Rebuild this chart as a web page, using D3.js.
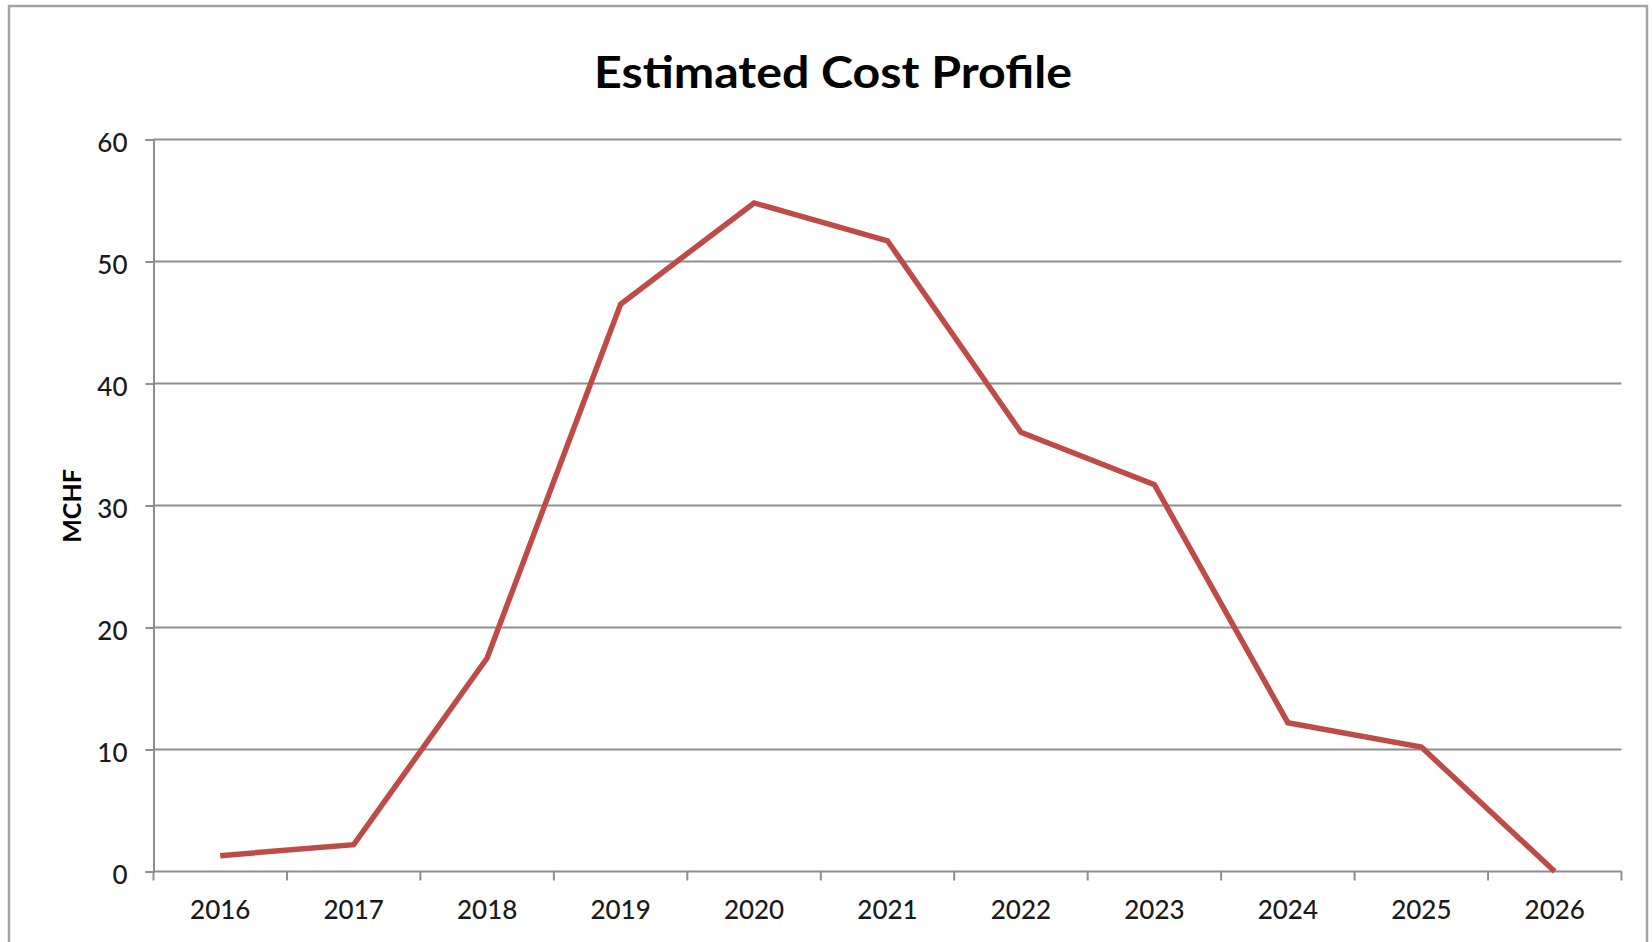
<!DOCTYPE html>
<html>
<head>
<meta charset="utf-8">
<script src="https://cdn.jsdelivr.net/npm/d3@7"></script>
<style>
  html, body { margin: 0; padding: 0; background: #fff; }
  svg { display: block; }
</style>
</head>
<body>
<svg id="chart" width="1652" height="942"></svg>
<script>
const years = ["2016","2017","2018","2019","2020","2021","2022","2023","2024","2025","2026"];
const costs = [1.3, 2.2, 17.5, 46.5, 54.8, 51.7, 36.0, 31.7, 12.2, 10.2, 0];
const yTicks = [0, 10, 20, 30, 40, 50, 60];
const titleText = "Estimated Cost Profile";
const yLabel = "MCHF";

const svg = d3.select("#chart");
const m = { left: 153.5, right: 1621.5, top: 139.5, bottom: 871.5 };

// outer frame
svg.append("rect")
  .attr("x", 9).attr("y", 6).attr("width", 1638).attr("height", 960)
  .attr("fill", "#fff").attr("stroke", "#a3a3a3").attr("stroke-width", 2.5);

const x = d3.scaleBand().domain(years).range([m.left, m.right]).paddingInner(0).paddingOuter(0);
const y = d3.scaleLinear().domain([0, 60]).range([m.bottom, m.top]);

// gridlines
svg.append("g")
  .selectAll("line").data(yTicks.filter(d => d > 0)).join("line")
  .attr("x1", m.left).attr("x2", m.right)
  .attr("y1", d => y(d)).attr("y2", d => y(d))
  .attr("stroke", "#8e8e8e").attr("stroke-width", 2);

// y axis
const yAxis = d3.axisLeft(y).tickValues(yTicks).tickSize(8).tickPadding(18).tickFormat(d3.format("d"));
const gy = svg.append("g").attr("transform", `translate(${m.left},0)`).call(yAxis);
gy.select(".domain").attr("stroke", "#8e8e8e").attr("stroke-width", 2);
gy.selectAll(".tick line").attr("stroke", "#8e8e8e").attr("stroke-width", 2);
gy.selectAll(".tick text").attr("font-family", "Lato, sans-serif").attr("font-size", 26)
  .attr("font-weight", 500).attr("fill", "#1a1a1a").attr("dy", "0.48em");

// x axis (ticks at band boundaries)
const gx = svg.append("g").attr("transform", `translate(0,${m.bottom})`);
gx.append("line").attr("x1", m.left).attr("x2", m.right).attr("y1", 0).attr("y2", 0)
  .attr("stroke", "#8e8e8e").attr("stroke-width", 2);
const boundaries = years.map(d => x(d)).concat([x(years[years.length - 1]) + x.bandwidth()]);
gx.selectAll("line.tk").data(boundaries).join("line").attr("class", "tk")
  .attr("x1", d => d).attr("x2", d => d).attr("y1", 0).attr("y2", 9)
  .attr("stroke", "#8e8e8e").attr("stroke-width", 2);
gx.selectAll("text").data(years).join("text")
  .attr("x", d => x(d) + x.bandwidth() / 2).attr("y", 47)
  .attr("text-anchor", "middle")
  .attr("font-family", "Lato, sans-serif").attr("font-size", 26).attr("font-weight", 500)
  .attr("fill", "#1a1a1a")
  .text(d => d);

// line
const line = d3.line().x((d, i) => x(years[i]) + x.bandwidth() / 2).y(d => y(d));
svg.append("path").datum(costs)
  .attr("d", line).attr("fill", "none")
  .attr("stroke", "#bf4b48").attr("stroke-width", 5.5).attr("stroke-linejoin", "miter");

// title
svg.append("text")
  .attr("x", 833).attr("y", 88)
  .attr("text-anchor", "middle")
  .attr("font-family", "Lato, sans-serif").attr("font-weight", "bold").attr("font-size", 44)
  .attr("fill", "#000")
  .attr("textLength", 478).attr("lengthAdjust", "spacingAndGlyphs")
  .text(titleText);

// y label
svg.append("text")
  .attr("transform", "translate(81,506) rotate(-90)")
  .attr("text-anchor", "middle")
  .attr("font-family", "Lato, sans-serif").attr("font-weight", "bold").attr("font-size", 25)
  .attr("fill", "#000")
  .text(yLabel);
</script>
</body>
</html>
